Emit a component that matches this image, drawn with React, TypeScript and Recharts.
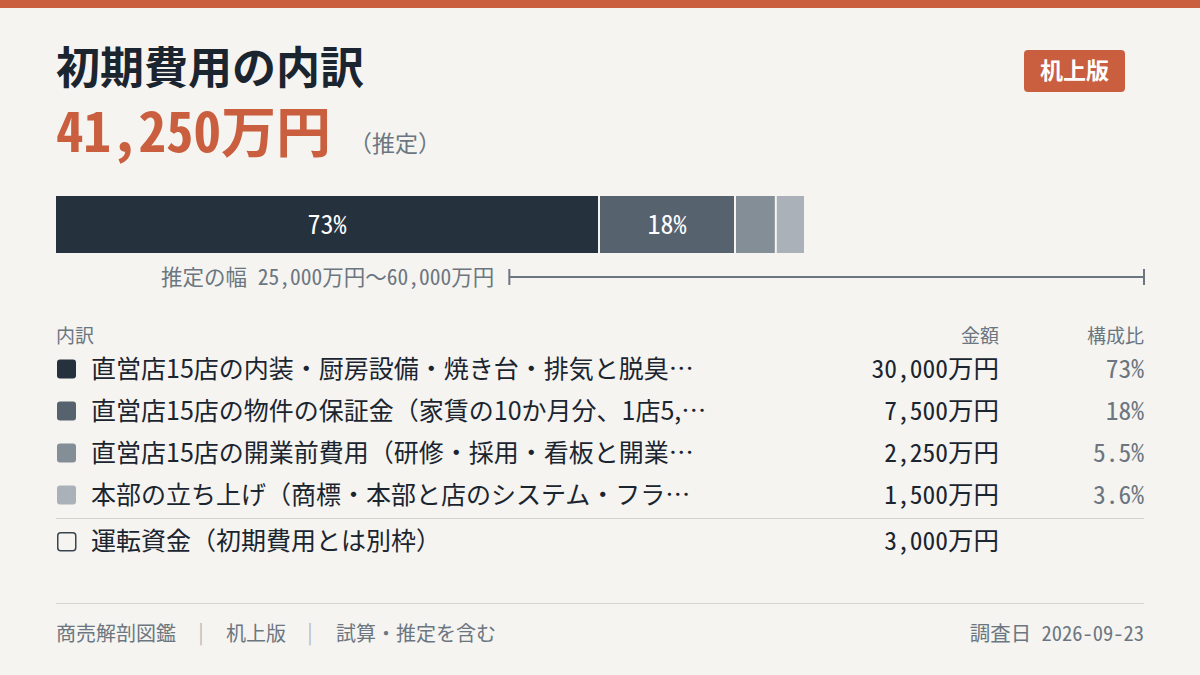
import React from 'react';
import { BarChart, Bar, XAxis, YAxis } from 'recharts';

// ---- data ----
const categories = [
  '直営店15店の内装・厨房設備・焼き台・排気と脱臭…',
  '直営店15店の物件の保証金（家賃の10か月分、1店5,…',
  '直営店15店の開業前費用（研修・採用・看板と開業…',
  '本部の立ち上げ（商標・本部と店のシステム・フラ…',
];
const amounts = [30000, 7500, 2250, 1500];
const shareLabels = ['73%', '18%', '5.5%', '3.6%'];
const segmentColors = ['#26313E', '#56626E', '#848E97', '#AAB1B8'];
const extraLabel = '運転資金（初期費用とは別枠）';
const extraAmount = 3000;
const estimateRange = [25000, 60000];
const axisDomain = [0, 60000];
const footerItems = ['商売解剖図鑑', '机上版', '試算・推定を含む'];
const surveyDate = '調査日 2026-09-23';

// ---- styles ----
const BG = '#F5F4F0';
const ORANGE = '#C95F3E';
const INK = '#1B2530';
const GRAY = '#6C7681';
const SANS = "'Noto Sans CJK JP', 'Noto Sans', sans-serif";
const MONO = "'Noto Sans Mono CJK JP', 'DejaVu Sans Mono', monospace";

const fmt = (v: number) => v.toLocaleString('en-US') + '万円';
const total = amounts.reduce((a, b) => a + b, 0);

const barRow: Record<string, any> = { name: 'total' };
amounts.forEach((v, i) => {
  barRow[`s${i}`] = v;
});
const rangeRow = { name: 'range', range: estimateRange };

const margin = { top: 0, right: 56, bottom: 0, left: 56 };

function Segment(props: any) {
  const { x, y, width, height, fill, gap } = props;
  return <rect x={x} y={y} width={Math.max(0, width - gap)} height={height} fill={fill} />;
}

function RangeShape(props: any) {
  const { x, y, width, height } = props;
  const cy = y + height / 2;
  return (
    <g>
      <line x1={x} x2={x + width} y1={cy} y2={cy} stroke={GRAY} strokeWidth={2} />
      <line x1={x} x2={x} y1={cy - 8} y2={cy + 8} stroke={GRAY} strokeWidth={2} />
      <line x1={x + width} x2={x + width} y1={cy - 8} y2={cy + 8} stroke={GRAY} strokeWidth={2} />
      <text x={x - 15} y={cy + 8} textAnchor="end" fill={GRAY} fontSize={21.5} fontFamily={MONO}>
        {`推定の幅 ${estimateRange[0].toLocaleString('en-US')}万円〜${fmt(estimateRange[1])}`}
      </text>
    </g>
  );
}

export default function App() {
  const rowBase = (i: number) => 378 + 42 * i;
  return (
    <div style={{ position: 'absolute', left: 0, top: 0, width: 1200, height: 675, background: BG, overflow: 'hidden' }}>
      <svg width={1200} height={675} style={{ position: 'absolute', left: 0, top: 0 }}>
        <rect x={0} y={0} width={1200} height={8} fill={ORANGE} />
        <text x={56} y={84} fontSize={44} fontWeight={700} fill={INK} fontFamily={SANS}>
          初期費用の内訳
        </text>
        <text x={56} y={152} fontSize={55} fontWeight={700} fill={ORANGE} fontFamily={MONO}>
          {fmt(total)}
        </text>
        <text x={349} y={152} fontSize={23} fill={GRAY} fontFamily={SANS}>
          （推定）
        </text>
        <rect x={1024} y={50} width={101} height={42} rx={4} fill={ORANGE} />
        <text x={1074.5} y={79} fontSize={23} fontWeight={700} fill="#FFFFFF" textAnchor="middle" fontFamily={SANS}>
          机上版
        </text>

        {/* table header */}
        <text x={56} y={343} fontSize={19} fill={GRAY} fontFamily={SANS}>内訳</text>
        <text x={999} y={343} fontSize={19} fill={GRAY} fontFamily={SANS} textAnchor="end">金額</text>
        <text x={1144} y={343} fontSize={19} fill={GRAY} fontFamily={SANS} textAnchor="end">構成比</text>

        {categories.map((c, i) => {
          const b = rowBase(i);
          const cy = b - 9;
          return (
            <g key={c}>
              <rect x={57} y={cy - 9.5} width={19} height={19} rx={3} fill={segmentColors[i]} />
              <text x={91} y={b} fontSize={25} fill={INK} fontFamily={SANS}>{c}</text>
              <text x={999} y={b} fontSize={25.5} fill={INK} fontFamily={MONO} textAnchor="end">{fmt(amounts[i])}</text>
              <text x={1144} y={b} fontSize={25.5} fill={GRAY} fontFamily={MONO} textAnchor="end">{shareLabels[i]}</text>
            </g>
          );
        })}
        <line x1={56} x2={1144} y1={518.5} y2={518.5} stroke="#D3D2CE" strokeWidth={1} />
        <rect x={57.75} y={532.75} width={18} height={18} rx={3} fill="none" stroke="#3A444F" strokeWidth={1.5} />
        <text x={91} y={550} fontSize={25} fill={INK} fontFamily={SANS}>{extraLabel}</text>
        <text x={999} y={550} fontSize={25.5} fill={INK} fontFamily={MONO} textAnchor="end">{fmt(extraAmount)}</text>

        {/* footer */}
        <line x1={56} x2={1144} y1={603.5} y2={603.5} stroke="#D6D5D0" strokeWidth={1} />
        <text x={56} y={641} fontSize={20} fill={GRAY} fontFamily={SANS}>{footerItems[0]}</text>
        <text x={201} y={640} fontSize={20} fill="#B5BAC0" fontFamily={SANS} textAnchor="middle">|</text>
        <text x={226} y={641} fontSize={20} fill={GRAY} fontFamily={SANS}>{footerItems[1]}</text>
        <text x={310} y={640} fontSize={20} fill="#B5BAC0" fontFamily={SANS} textAnchor="middle">|</text>
        <text x={336} y={641} fontSize={20} fill={GRAY} fontFamily={SANS}>{footerItems[2]}</text>
        <text x={1144} y={641} fontSize={20.5} fill={GRAY} fontFamily={MONO} textAnchor="end">{surveyDate}</text>
      </svg>

      <div style={{ position: 'absolute', left: 0, top: 196 }}>
        <BarChart layout="vertical" width={1200} height={57} data={[barRow]} margin={margin} barCategoryGap={0}>
          <XAxis type="number" domain={axisDomain} hide />
          <YAxis type="category" dataKey="name" hide />
          {amounts.map((_, i) => (
            <Bar
              key={i}
              dataKey={`s${i}`}
              stackId="total"
              fill={segmentColors[i]}
              isAnimationActive={false}
              shape={(p: any) => <Segment {...p} gap={i < amounts.length - 1 ? 2 : 0} />}
              label={(p: any) =>
                p.width > 60 ? (
                  <text
                    x={p.x + (p.width - 2) / 2}
                    y={p.y + p.height / 2 + 9}
                    textAnchor="middle"
                    fill="#FFFFFF"
                    fontSize={26}
                    fontWeight={500}
                    fontFamily={MONO}
                  >
                    {shareLabels[i]}
                  </text>
                ) : (
                  <g />
                )
              }
            />
          ))}
        </BarChart>
      </div>

      <div style={{ position: 'absolute', left: 0, top: 257 }}>
        <BarChart layout="vertical" width={1200} height={40} data={[rangeRow]} margin={margin} barCategoryGap={0}>
          <XAxis type="number" domain={axisDomain} hide />
          <YAxis type="category" dataKey="name" hide />
          <Bar dataKey="range" fill={GRAY} isAnimationActive={false} shape={(p: any) => <RangeShape {...p} />} />
        </BarChart>
      </div>
    </div>
  );
}
